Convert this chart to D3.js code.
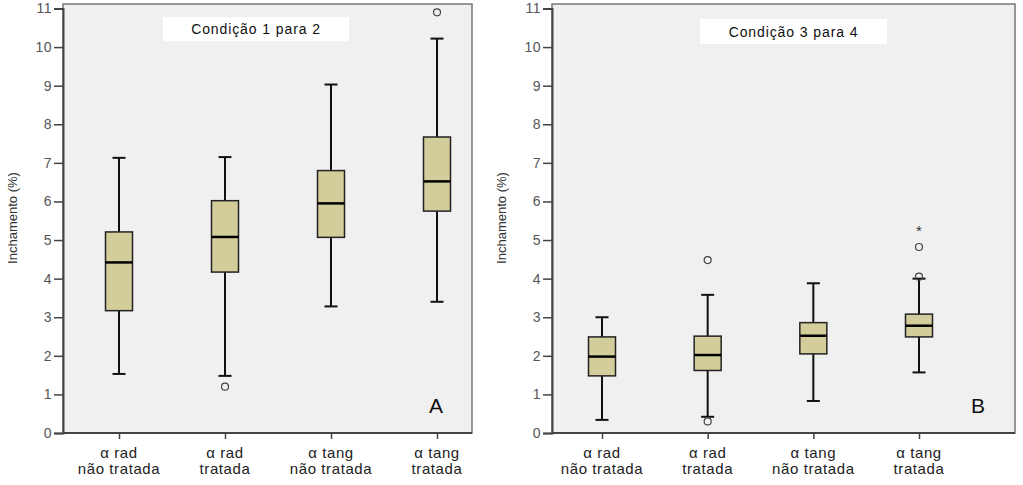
<!DOCTYPE html>
<html><head><meta charset="utf-8">
<script src="https://cdn.jsdelivr.net/npm/d3@7"></script>
<style>body{margin:0;background:#fff}svg{display:block}</style>
</head><body>
<svg id="c" width="1023" height="485"></svg>
<script>
const categories = [["α rad","não tratada"],["α rad","tratada"],["α tang","não tratada"],["α tang","tratada"]];
const yTicks = [0,1,2,3,4,5,6,7,8,9,10,11];
// [lowWhisker, Q1, median, Q3, highWhisker]
const boxesA = [[1.53,3.17,4.42,5.21,7.13],[1.48,4.17,5.08,6.02,7.15],[3.28,5.07,5.95,6.80,9.03],[3.40,5.75,6.52,7.67,10.22]];
const outliersA = [[],[1.20],[],[10.90]];
const extremesA = [[],[],[],[]];
const boxesB = [[0.34,1.48,1.98,2.49,3.00],[0.42,1.62,2.02,2.51,3.58],[0.83,2.05,2.52,2.86,3.88],[1.57,2.49,2.78,3.08,4.00]];
const outliersB = [[],[4.48,0.30],[],[4.05,4.82]];
const extremesB = [[],[],[],[5.26]];
const titles = ["Condição 1 para 2","Condição 3 para 4"];
const letters = ["A","B"];
const yLabel = "Inchamento (%)";

const svg = d3.select("#c");
const panels = [
  {x0:63, x1:472, c0:119, c1:437, boxes:boxesA, out:outliersA, ext:extremesA, title:titles[0], tb:[163,17,186,24], letter:letters[0], lx:436, ylx:17},
  {x0:552, x1:1015, c0:602, c1:919, boxes:boxesB, out:outliersB, ext:extremesB, title:titles[1], tb:[700,19,187,25], letter:letters[1], lx:978, ylx:506}
];
const plotTop = 4, plotBottom = 433;
const y = d3.scaleLinear().domain([0,11]).range([plotBottom, 8.5]);
const font = "'Liberation Sans', Arial, sans-serif";

panels.forEach(p => {
  const g = svg.append("g");
  const x = d3.scalePoint().domain(d3.range(4)).range([p.c0, p.c1]);
  g.append("rect").attr("x",p.x0).attr("y",plotTop).attr("width",p.x1-p.x0).attr("height",plotBottom-plotTop)
    .attr("fill","#f0f0f0").attr("stroke","#777").attr("stroke-width",1.5);
  g.append("rect").attr("x",p.tb[0]).attr("y",p.tb[1]).attr("width",p.tb[2]).attr("height",p.tb[3]).attr("fill","#fff");
  g.append("text").attr("x",p.tb[0]+p.tb[2]/2).attr("y",p.tb[1]+p.tb[3]/2+5).attr("text-anchor","middle")
    .attr("font-family",font).attr("font-size",14).attr("letter-spacing",0.9).attr("fill","#111").text(p.title);
  const ya = g.append("g").attr("transform",`translate(${p.x0},0)`).call(d3.axisLeft(y).tickValues(yTicks).tickSize(9).tickPadding(2).tickFormat(d3.format("d")));
  ya.select(".domain").attr("stroke","#444").attr("stroke-width",2);
  ya.selectAll(".tick line").attr("stroke","#444").attr("stroke-width",1.5);
  ya.selectAll("text").attr("font-family",font).attr("font-size",14).attr("letter-spacing",0.5).attr("fill","#555");
  const xa = g.append("g").attr("transform",`translate(0,${plotBottom})`).call(d3.axisBottom(x).tickSize(6).tickFormat(""));
  xa.select(".domain").attr("d",`M${p.x0},0H${p.x1}`).attr("stroke","#444").attr("stroke-width",2);
  xa.selectAll(".tick line").attr("stroke","#444").attr("stroke-width",1.5);
  categories.forEach((c,i)=>{
    const t = g.append("text").attr("text-anchor","middle").attr("font-family",font).attr("font-size",15).attr("letter-spacing",0.6).attr("fill","#222");
    t.append("tspan").attr("x",x(i)).attr("y",458).text(c[0]);
    t.append("tspan").attr("x",x(i)).attr("y",474).text(c[1]);
  });
  g.append("text").attr("transform",`translate(${p.ylx},218) rotate(-90)`).attr("text-anchor","middle")
    .attr("font-family","'Liberation Sans Narrow', 'Arial Narrow', "+font).attr("font-size",13).attr("fill","#333").text(yLabel);
  const bw = 27, cw = 13;
  p.boxes.forEach((b,i)=>{
    const cx = x(i);
    g.append("line").attr("x1",cx).attr("x2",cx).attr("y1",y(b[0])).attr("y2",y(b[4])).attr("stroke","#111").attr("stroke-width",2);
    [b[0],b[4]].forEach(v=>g.append("line").attr("x1",cx-cw/2).attr("x2",cx+cw/2).attr("y1",y(v)).attr("y2",y(v)).attr("stroke","#111").attr("stroke-width",2));
    g.append("rect").attr("x",cx-bw/2).attr("y",y(b[3])).attr("width",bw).attr("height",y(b[1])-y(b[3]))
      .attr("fill","#d3cc9b").attr("stroke","#222").attr("stroke-width",1.5);
    g.append("line").attr("x1",cx-bw/2).attr("x2",cx+bw/2).attr("y1",y(b[2])).attr("y2",y(b[2])).attr("stroke","#000").attr("stroke-width",2.5);
    p.out[i].forEach(v=>g.append("circle").attr("cx",cx).attr("cy",y(v)).attr("r",3.5).attr("fill","none").attr("stroke","#444").attr("stroke-width",1.2));
    p.ext[i].forEach(v=>g.append("text").attr("x",cx).attr("y",y(v)+6).attr("text-anchor","middle").attr("font-family",font).attr("font-size",15).attr("fill","#333").text("*"));
  });
  g.append("text").attr("x",p.lx).attr("y",413).attr("text-anchor","middle").attr("font-family",font).attr("font-size",21).attr("fill","#111").text(p.letter);
});
</script>
</body></html>
